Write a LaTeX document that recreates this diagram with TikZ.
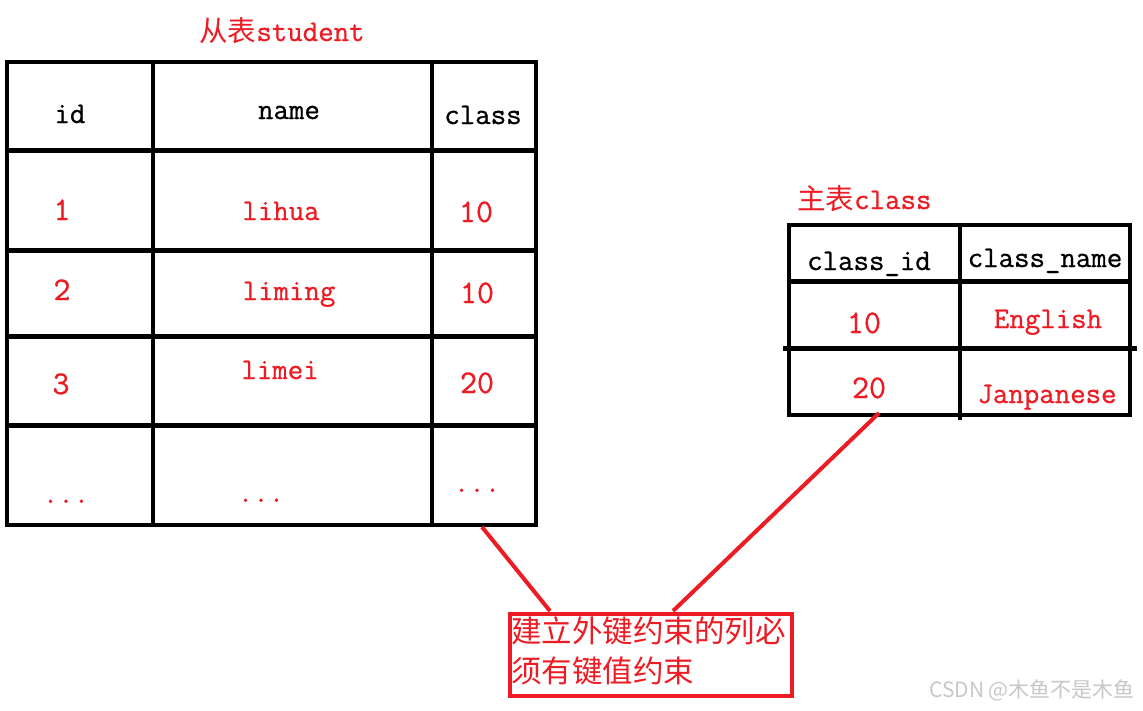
\documentclass[tikz,border=0pt]{standalone}
\usepackage{fontspec}
\newfontfamily\cjk{Noto Sans CJK SC}
\newfontfamily\monob[FakeBold=0.8]{Latin Modern Mono}
\definecolor{pred}{RGB}{237,28,36}
\definecolor{wmgray}{RGB}{200,200,200}
\begin{document}
\begin{tikzpicture}[x=1pt,y=-1pt,
  tbl/.style={line width=4.2pt, black, line cap=rect},
  rl/.style={line width=4pt, pred},
  lt/.style={font=\fontsize{30}{36}\selectfont\monob, anchor=base, inner sep=0pt},
  redt/.style={lt, text=pred},
  numt/.style={redt, font=\fontsize{33}{36}\selectfont\monob},
  blkt/.style={lt, text=black},
  cjkt/.style={font=\fontsize{30.5}{36}\selectfont\cjk, anchor=base west, inner sep=0pt, text=pred}]
\useasboundingbox[fill=white] (0,0) rectangle (1143,710);

% ---- left table (student) ----
\draw[tbl] (7,62) rectangle (536,525);
\draw[tbl] (153,62) -- (153,525);
\draw[tbl] (432,62) -- (432,525);
\foreach \yy in {150.5,250.5,336.5,425.5} \draw[tbl] (7,\yy) -- (536,\yy);

\node[redt, anchor=base] (t1) at (282,41) {{\cjk\fontsize{28.5}{30}\selectfont 从表}student};

\node[blkt] (h1) at (70,123) {id};
\node[blkt] (h2) at (289,119) {name};
\node[blkt] (h3) at (483,124) {class};

\node[numt] (a1) at (62,220) {1};
\node[redt] (b1) at (281,220) {lihua};
\node[numt] (c1) at (476,222) {10};

\node[numt] (a2) at (62,300) {2};
\node[redt] (b2) at (289,300) {liming};
\node[numt] (c2) at (477,303) {10};

\node[numt] (a3) at (61,394) {3};
\node[redt] (b3) at (280,379) {limei};
\node[numt] (c3) at (477,393) {20};

\node[redt] (a4) at (66,503) {...};
\node[redt] (b4) at (261,502) {...};
\node[redt] (c4) at (477,492) {...};

% ---- right table (class) ----
\draw[tbl] (789,225) rectangle (1130,415);
\draw[tbl] (960,225) -- (960,418);
\draw[tbl] (789,281.5) -- (1130,281.5);
\draw[tbl] (785,348.5) -- (1135,348.5);

\node[redt, anchor=base west] (t2) at (797,209) {{\cjk\fontsize{28.5}{30}\selectfont 主表}class};

\node[blkt] (k1) at (869,270) {class\_id};
\node[blkt] (k2) at (1045,267) {class\_name};
\node[numt] (d1) at (864,333) {10};
\node[redt] (e1) at (1048,328) {English};
\node[numt] (d2) at (869,398) {20};
\node[redt] (e2) at (1047,403) {Janpanese};

% ---- note box ----
\node[draw=pred, line width=4pt, minimum width=282pt, minimum height=82pt,
      anchor=north west, inner sep=0pt] (note) at (508,612) {};
\node[cjkt] (n1) at (511,642) {建立外键约束的列必};
\node[cjkt] (n2) at (511,682) {须有键值约束};

% ---- connectors ----
\coordinate (s) at (482,527);
\coordinate (t) at (879,413);
\coordinate (p1) at (550,611);
\coordinate (p2) at (673,611);
\draw[rl] (s) -- (p1);
\draw[rl] (t) -- (p2);

% ---- watermark ----
\node[font=\fontsize{21}{24}\selectfont\cjk, text=wmgray, anchor=base, inner sep=0pt] (wm) at (1032,697) {CSDN @木鱼不是木鱼};
\end{tikzpicture}
\end{document}
